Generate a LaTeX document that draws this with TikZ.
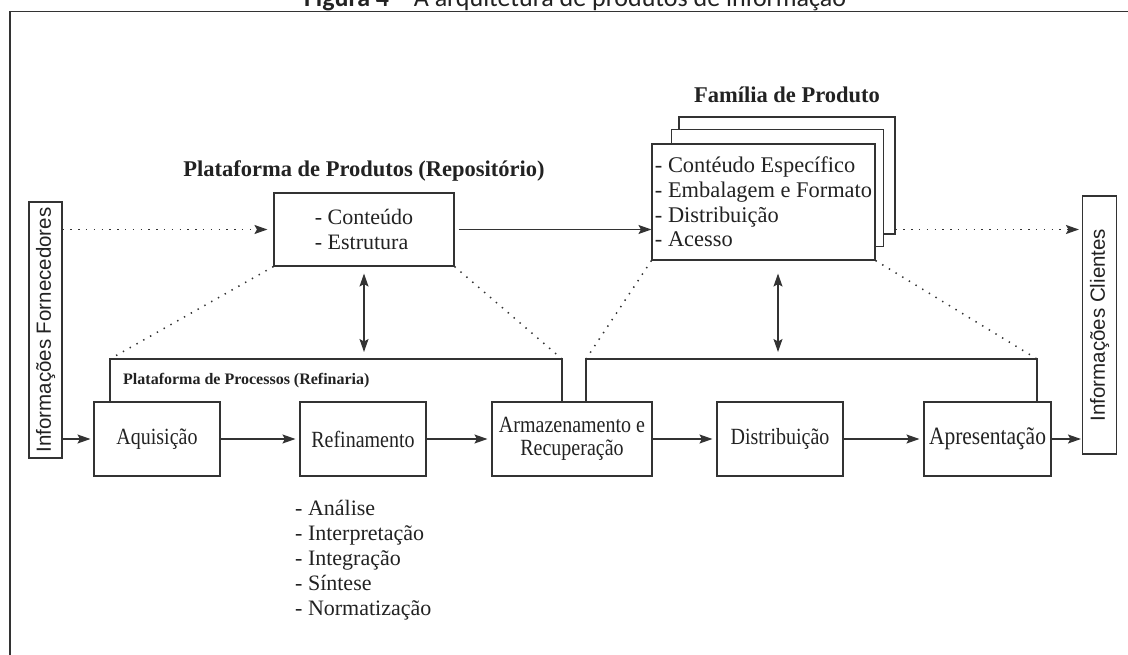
\documentclass[tikz,border=0pt]{standalone}
\usepackage{fontspec}
\usepackage{graphicx}
\setmainfont{Liberation Serif}
\setsansfont{Liberation Sans}
\newfontfamily\titlefont{Carlito}
\usetikzlibrary{arrows.meta,calc}
\definecolor{linec}{HTML}{333333}
\definecolor{txt}{HTML}{222222}
\newcommand{\fsz}[1]{\fontsize{#1}{25}\selectfont}
\newcommand{\vst}[1]{\scalebox{1}[1.16]{#1}}
\begin{document}
\begin{tikzpicture}[x=1pt,y=-1pt,
  box/.style={draw=linec, line width=1.1pt, fill=white, inner sep=0pt, text=txt},
  lbl/.style={text=txt, inner sep=0pt},
  ln/.style={draw=linec, line width=1.1pt},
  arr/.style={draw=linec, line width=1.2pt, -{Stealth[length=13pt,width=9pt,inset=2.5pt]}},
  darr/.style={draw=linec, line width=1.2pt, {Stealth[length=13pt,width=9pt,inset=2.5pt]}-{Stealth[length=13pt,width=9pt,inset=2.5pt]}},
  dot/.style={draw=linec, line width=1.5pt, dash pattern=on 1.4pt off 6.4pt},
  dotarr/.style={dot, -{Stealth[length=13pt,width=9pt,inset=2.5pt]}},
  frame/.style={draw=linec, line width=1.5pt}
]
\useasboundingbox[fill=white] (0,0) rectangle (1128,655);

% title and frame
\node[lbl, anchor=base, font=\titlefont\fontsize{26}{30}\selectfont] (title) at (575,7)
  {\textbf{Figura 4} – A arquitetura de produtos de informação};
\draw[frame] (10,700) -- (10,11.5) -- (1140,11.5);

% side boxes
\node[box, minimum width=33pt, minimum height=256pt] (forn) at (45.5,330) {};
\node[lbl, rotate=90, font=\sffamily\fontsize{20.5}{24}\selectfont] (fornt) at (forn.center) {Informações Fornecedores};
\node[box, minimum width=34pt, minimum height=258pt] (cli) at (1099.5,325) {};
\node[lbl, rotate=90, font=\sffamily\fontsize{20.5}{24}\selectfont] (clit) at (cli.center) {Informações Clientes};

% product platform
\node[lbl, anchor=base, font=\bfseries\fontsize{22.5}{27}\selectfont] (ptit) at (364,177) {Plataforma de Produtos (Repositório)};
\node[box, minimum width=180pt, minimum height=73pt, align=left, font=\fontsize{22}{25}\selectfont] (cont) at (364,229.5) {- Conteúdo\\- Estrutura};

% product family
\node[lbl, anchor=base, font=\bfseries\fontsize{22.5}{27}\selectfont] (ftit) at (787,103) {Família de Produto};
\node[box, minimum width=216pt, minimum height=117pt] (famback) at (787,175.5) {};
\node[box, minimum width=212pt, minimum height=117pt] (fammid) at (777.5,188) {};
\node[box, minimum width=223pt, minimum height=116pt, align=left, font=\fontsize{22.4}{24.7}\selectfont] (famfront) at (763.5,202)
  {- Contéudo Específico\\- Embalagem e Formato\\- Distribuição\\- Acesso};

% process boxes
\node[box, minimum width=126pt, minimum height=74pt, font=\fsz{20}] (aq) at (157,439) {\vst{Aquisição}};
\node[box, minimum width=126pt, minimum height=74pt, font=\fsz{20}] (ref) at (363,439) {\vst{Refinamento}};
\node[box, minimum width=160pt, minimum height=74pt, align=center, font=\fontsize{20}{22.5}\selectfont] (arm) at (572,439) {\vst{Armazenamento e}\\\vst{Recuperação}};
\node[box, minimum width=126pt, minimum height=74pt, font=\fsz{20}] (dist) at (780,439) {\vst{Distribuição}};
\node[box, minimum width=127pt, minimum height=74pt, font=\fsz{21.5}] (ap) at (987.5,439) {\vst{Apresentação}};

\node[lbl, anchor=base west, font=\bfseries\fontsize{16}{19}\selectfont] (proct) at (123,384) {Plataforma de Processos (Refinaria)};

\node[lbl, anchor=north west, align=left, font=\fontsize{22}{25}\selectfont] (list) at (295,500)
  {- Análise\\- Interpretação\\- Integração\\- Síntese\\- Normatização};

% process platform outline
\coordinate (p1) at (110,359);
\coordinate (p2) at (562,359);
\coordinate (p3) at (586,359);
\coordinate (p4) at (1037,359);
\draw[ln] (aq.north -| p1) -- (p1) -- (p2) -- (arm.north -| p2);
\draw[ln] (arm.north -| p3) -- (p3) -- (p4) -- (ap.north -| p4);

% dotted funnel lines
\draw[dot] (cont.south west) -- (p1);
\draw[dot] (cont.south east) -- (p2);
\draw[dot] (famfront.south west) -- (p3);
\draw[dot] (famfront.south east) -- (p4);

% dotted arrows
\draw[dotarr] (forn.east |- cont.west) -- ([xshift=-6pt]cont.west);
\draw[dotarr] (famback.east |- cont.west) -- ([xshift=-3pt]cli.west |- cont.west);

% solid arrows
\draw[arr] ([xshift=4pt]cont.east) -- (famfront.west |- cont.east);
\coordinate (q1) at (364,352);
\draw[darr] ($(cont.south)+(0,7)$) -- (q1);
\coordinate (r2) at (778,352);
\draw[darr] ($(r2 |- famfront.south)+(0,13)$) -- (r2);

\draw[arr, shorten >=3pt] (forn.east |- aq.west) -- (aq.west);
\draw[arr, shorten >=4pt] (aq.east) -- (ref.west);
\draw[arr, shorten >=4pt] (ref.east) -- (arm.west);
\draw[arr, shorten >=4pt] (arm.east) -- (dist.west);
\draw[arr, shorten >=4pt] (dist.east) -- (ap.west);
\draw[arr, shorten >=1pt] (ap.east) -- (cli.west |- ap.east);
\end{tikzpicture}
\end{document}
